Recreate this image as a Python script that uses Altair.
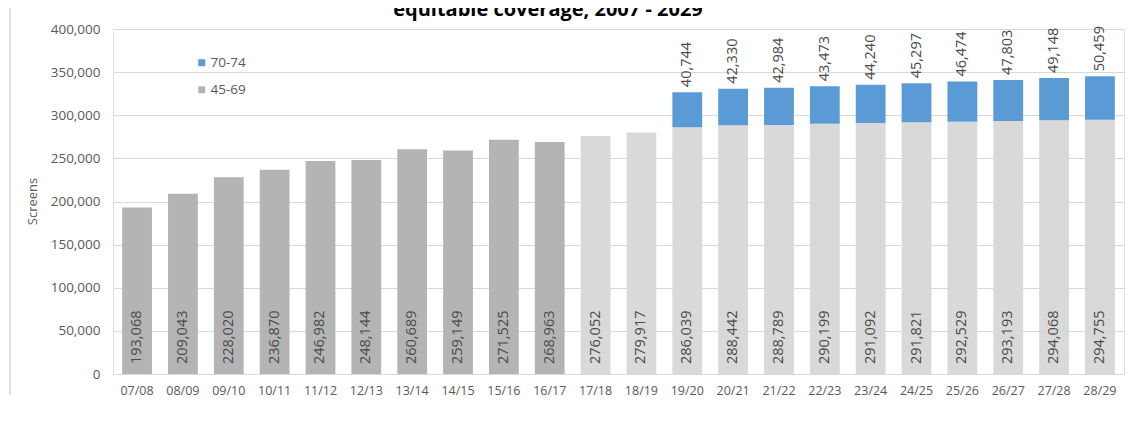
import altair as alt
import pandas as pd

periods = ["07/08", "08/09", "09/10", "10/11", "11/12", "12/13", "13/14", "14/15",
           "15/16", "16/17", "17/18", "18/19", "19/20", "20/21", "21/22", "22/23",
           "23/24", "24/25", "25/26", "26/27", "27/28", "28/29"]
screens_45_69 = [193068, 209043, 228020, 236870, 246982, 248144, 260689, 259149,
                 271525, 268963, 276052, 279917, 286039, 288442, 288789, 290199,
                 291092, 291821, 292529, 293193, 294068, 294755]
periods_70_74 = ["19/20", "20/21", "21/22", "22/23", "23/24", "24/25", "25/26",
                 "26/27", "27/28", "28/29"]
screens_70_74 = [40744, 42330, 42984, 43473, 44240, 45297, 46474, 47803, 49148, 50459]
y_ticks = [0, 50000, 100000, 150000, 200000, 250000, 300000, 350000, 400000]
n_actual = 10  # 07/08 .. 16/17 are actual figures
title_text = "equitable coverage, 2007 - 2029"

rows = []
for i, (p, v) in enumerate(zip(periods, screens_45_69)):
    rows.append({"period": p, "value": v, "cat": "45-69" if i < n_actual else "45-69 proj", "ord": 0})
for p, v in zip(periods_70_74, screens_70_74):
    rows.append({"period": p, "value": v, "cat": "70-74", "ord": 1})
df = pd.DataFrame(rows)

base_map = dict(zip(periods, screens_45_69))
tops = pd.DataFrame({
    "period": periods_70_74,
    "label": screens_70_74,
    "value": [base_map[p] + v for p, v in zip(periods_70_74, screens_70_74)],
})
lows = pd.DataFrame({"period": periods, "value": screens_45_69})

FONT = "Open Sans"
GREY_TXT = "#595959"

xenc = alt.X("period:N", sort=periods,
             scale=alt.Scale(paddingInner=0.35, paddingOuter=0.2),
             axis=alt.Axis(title=None, labelAngle=0, labelColor=GREY_TXT, labelFontSize=12.5,
                           labelPadding=10, ticks=False, domainColor="#d9d9d9"))

yaxis = alt.Axis(values=y_ticks, format=",.0f",
                 title="Screens", titleFontWeight="normal", titleFontSize=13,
                 titleColor=GREY_TXT, titleX=-74, titleY=172, titleAngle=-90,
                 labelColor=GREY_TXT, labelFontSize=13.5, labelPadding=13,
                 ticks=False, domain=False, gridColor="#d9d9d9")
yscale = alt.Scale(domain=[0, 400000], nice=False)

bars = alt.Chart(df).mark_bar().encode(
    x=xenc,
    y=alt.Y("value:Q", stack="zero", scale=yscale, axis=yaxis),
    color=alt.Color("cat:N",
                    scale=alt.Scale(domain=["70-74", "45-69", "45-69 proj"],
                                    range=["#5b9bd5", "#b4b4b4", "#d9d9d9"]),
                    legend=alt.Legend(values=["70-74", "45-69"], title=None, orient="none",
                                      legendX=82, legendY=27, symbolType="square",
                                      symbolSize=49, symbolStrokeWidth=0,
                                      labelFontSize=13.5, labelColor=GREY_TXT,
                                      rowPadding=12, labelOffset=2)),
    order=alt.Order("ord:Q"),
)

low_labels = alt.Chart(lows).mark_text(angle=270, align="left", baseline="middle",
                                       fontSize=14.5, color="#4a4a4a").encode(
    x=alt.X("period:N", sort=periods),
    y=alt.value(335),
    text=alt.Text("value:Q", format=","),
)

top_labels = alt.Chart(tops).mark_text(angle=270, align="left", baseline="middle",
                                       fontSize=14.5, color="#4a4a4a", dx=5).encode(
    x=alt.X("period:N", sort=periods),
    y=alt.Y("value:Q", stack=None, scale=yscale, axis=yaxis),
    text=alt.Text("label:Q", format=","),
)

title = alt.Chart(pd.DataFrame({"t": [title_text]})).mark_text(
    fontSize=20, fontWeight="bold", align="center", baseline="alphabetic", color="#000000"
).encode(text="t:N", x=alt.value(435), y=alt.value(-13))

border = alt.Chart(pd.DataFrame({"a": [0]})).mark_rule(color="#d9d9d9", strokeWidth=1.5).encode(
    x=alt.value(-103), y=alt.value(-21), y2=alt.value(366))

chart = alt.layer(bars, low_labels, top_labels, title, border).properties(
    width=1011, height=345,
    autosize=alt.AutoSizeParams(type="none"),
    padding={"left": 105, "top": 21, "right": 5, "bottom": 48},
    background="white",
).configure_view(stroke=None).configure(font=FONT)

chart.save("out.html", embed_options={"renderer": "svg", "actions": False})
